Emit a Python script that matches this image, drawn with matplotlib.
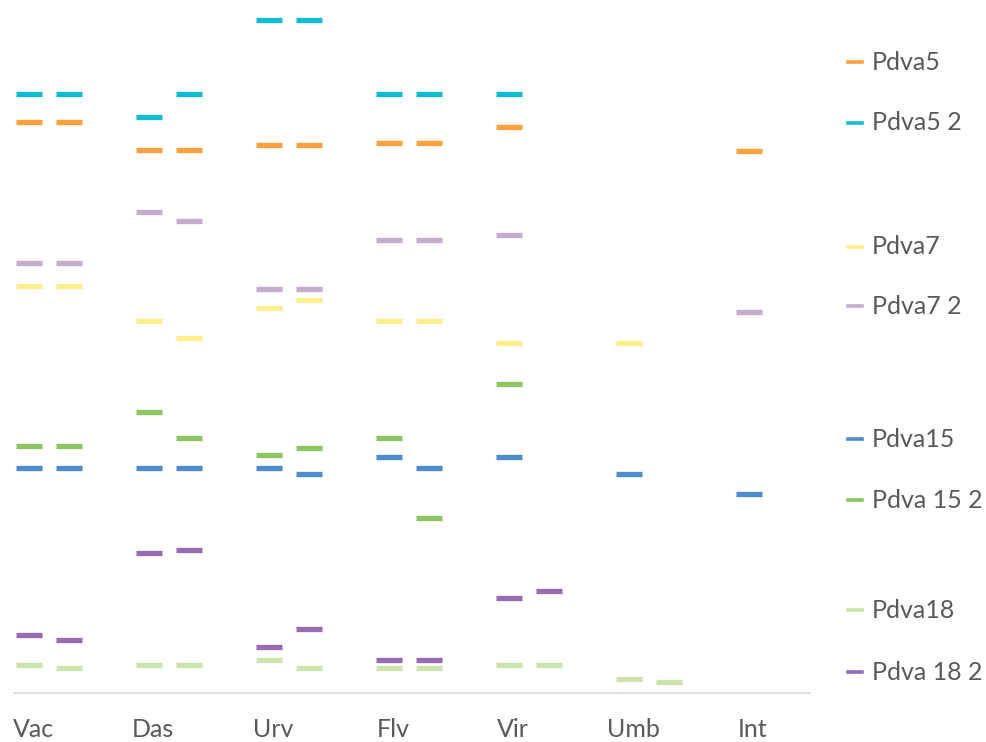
import numpy as np
import matplotlib
matplotlib.use("Agg")
import matplotlib.pyplot as plt
import matplotlib.lines as lines

nan = np.nan

categories = ["Vac", "Das", "Urv", "Flv", "Vir", "Umb", "Int"]

# two readings per category: left, right
pdva5 = [83.6, 83.6, 79.5, 79.5, 80.3, 80.3, 80.6, 80.6, 82.9, nan, nan, nan, 79.3, nan]
pdva5_2 = [87.7, 87.7, 84.4, 87.7, 98.5, 98.5, 87.7, 87.7, 87.7, nan, nan, nan, nan, nan]
pdva7 = [59.6, 59.6, 54.5, 52.0, 56.3, 57.6, 54.5, 54.5, 51.2, nan, 51.2, nan, nan, nan]
pdva7_2 = [63.0, 63.0, 70.4, 69.1, 59.1, 59.1, 66.3, 66.3, 67.1, nan, nan, nan, 55.8, nan]
pdva15 = [33.0, 33.0, 33.0, 33.0, 33.0, 32.0, 34.6, 33.0, 34.6, nan, 32.0, nan, 29.2, nan]
pdva15_2 = [36.1, 36.1, 41.2, 37.4, 34.8, 35.9, 37.4, 25.6, 45.3, nan, nan, nan, nan, nan]
pdva18 = [4.1, 3.7, 4.1, 4.1, 4.9, 3.7, 3.7, 3.7, 4.1, 4.1, 2.1, 1.6, nan, nan]
pdva18_2 = [8.5, 7.8, 20.5, 21.0, 6.7, 9.3, 4.9, 4.9, 13.9, 14.9, nan, nan, nan, nan]

series = [
    ("Pdva5", pdva5, "#FFA03C"),
    ("Pdva5 2", pdva5_2, "#12BCD2"),
    ("Pdva7", pdva7, "#FFEE8C"),
    ("Pdva7 2", pdva7_2, "#C6ABD0"),
    ("Pdva15", pdva15, "#4C8CCF"),
    ("Pdva 15 2", pdva15_2, "#8DC562"),
    ("Pdva18", pdva18, "#CBE4AE"),
    ("Pdva 18 2", pdva18_2, "#9A6AB2"),
]

# legend rows sit unevenly in the original (figure pixel y of each swatch)
legend_y = [62, 123, 247, 306, 439, 500, 610, 672]

plt.rcParams["font.family"] = ["Lato", "DejaVu Sans"]
W, H = 987, 742
fig = plt.figure(figsize=(W / 100, H / 100), dpi=100)
ax = fig.add_axes([14 / W, (H - 693) / H, (810 - 14) / W, (693 - 10) / H])

# slot positions: each category gets 3 slots, third left empty
x = []
for i in range(len(categories)):
    x += [3 * i, 3 * i + 1]
x = np.array(x)

for name, vals, color in series:
    ax.plot(x, vals, linestyle="none", marker="_", markersize=19,
            markeredgewidth=3.8, color=color)

ax.set_xlim(-0.375, 19.525)
ax.set_ylim(0, 100)
ax.set_xticks(np.arange(len(categories)) * 3 + 0.1)
ax.set_xticklabels(categories, fontsize=18, color="#595959")
ax.tick_params(axis="x", length=0, pad=18)
ax.set_yticks([])
for side in ["left", "right", "top"]:
    ax.spines[side].set_visible(False)
ax.spines["bottom"].set_color("#D9D9D9")
ax.spines["bottom"].set_linewidth(1.2)

# manual legend
for (name, vals, color), yp in zip(series, legend_y):
    fy = 1 - yp / H
    fig.add_artist(lines.Line2D([848 / W, 862 / W], [fy, fy], color=color,
                                linewidth=2.6))
    fig.text(872 / W, fy, name, fontsize=18, color="#595959",
             va="center", ha="left")

fig.savefig("out.png", dpi=100)
